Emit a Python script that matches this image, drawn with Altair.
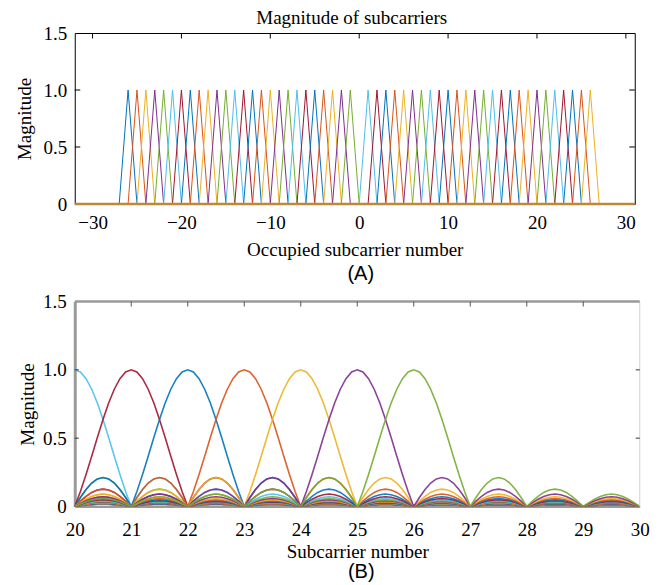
import altair as alt
import pandas as pd

# MATLAB default colour order
palette = ["#0072BD", "#D95319", "#EDB120", "#7E2F8E", "#77AC30", "#4DBEEE", "#A2142F"]

# ---------------- Panel A data ----------------
subcarriers_a = list(range(-26, 0)) + list(range(1, 27))
peak_a = 1.0
x_ticks_a = [-30, -20, -10, 0, 10, 20, 30]
x_domain_a = [-32, 31]
y_ticks = [0, 0.5, 1.0, 1.5]
inner_y_ticks = [0.5, 1.0]

# ---------------- Panel B data ----------------
subcarriers_b = list(range(1, 27))
x_ticks_b = list(range(20, 31))
top_ticks_b = list(range(21, 30))
x_domain_b = [20, 30]
# main lobe magnitude read at offsets 0.0 .. 1.0 (step 0.1)
main_lobe = [1.0, 0.984, 0.935, 0.858, 0.757, 0.637, 0.505, 0.368, 0.234, 0.109, 0.0]
# shape of one side lobe at offsets 0.0 .. 1.0 within the lobe (step 0.1)
side_arch = [0.0, 0.309, 0.588, 0.809, 0.951, 1.0, 0.951, 0.809, 0.588, 0.309, 0.0]
# peak height of the 1st, 2nd, ... side lobe
side_peaks = [0.212, 0.127, 0.091, 0.071, 0.058, 0.049, 0.042, 0.037, 0.034, 0.030,
              0.028, 0.025, 0.024, 0.022, 0.021, 0.019, 0.018, 0.017, 0.016, 0.016,
              0.015, 0.014, 0.014, 0.013, 0.012, 0.012, 0.012, 0.011, 0.011]

# ---------------- tables ----------------
rows_a = []
for k in subcarriers_a:
    for x, y in ((k - 1, 0.0), (k, peak_a), (k + 1, 0.0)):
        rows_a.append({"x": x, "y": y, "sc": f"a{k}"})
df_a = pd.DataFrame(rows_a)
keys_a = [f"a{k}" for k in subcarriers_a]
cols_a = [palette[i % 7] for i in range(len(subcarriers_a))]

rows_b = []
for k in subcarriers_b:
    for t in range(x_domain_b[0] * 10, x_domain_b[1] * 10 + 1):
        d = abs(t - 10 * k)
        n, j = divmod(d, 10)
        if n == 0:
            m = main_lobe[j]
        elif n - 1 < len(side_peaks):
            m = side_peaks[n - 1] * side_arch[j]
        else:
            m = 0.0
        rows_b.append({"x": t / 10, "y": m, "sc": f"b{k}"})
df_b = pd.DataFrame(rows_b)
keys_b = [f"b{k}" for k in subcarriers_b]
cols_b = [palette[i % 7] for i in range(len(subcarriers_b))]

# ---------------- styling ----------------
SERIF = "Liberation Serif"
SANS = "Liberation Sans"
FS = 19
WA = 560
WB = 565
HA = 171
HB = 205
LAB = "datum.value == 0 ? '0' : format(datum.value, '.1f')"


def ax(**kw):
    base = dict(grid=False, ticks=False, tickSize=0, labelFont=SERIF, labelFontSize=FS,
                labelColor="black", titleFont=SERIF, titleFontSize=FS,
                titleFontWeight="normal", titleColor="black", labelFlush=False,
                labelOverlap=False)
    base.update(kw)
    return alt.Axis(**base)


# ---------------- Panel A ----------------
xsa = alt.Scale(domain=x_domain_a, nice=False, zero=False)
ysa = alt.Scale(domain=[0, 1.5], nice=False)

x_axis_a = ax(values=x_ticks_a, title="Occupied subcarrier number", domain=False,
              labelPadding=9, titlePadding=8.5)
y_axis_a = ax(values=y_ticks, labelExpr=LAB, title="Magnitude", domain=False,
              labelPadding=8, titlePadding=9)

lines_a = alt.Chart(df_a).mark_line(strokeWidth=1, clip=True).encode(
    x=alt.X("x:Q", scale=xsa, axis=x_axis_a),
    y=alt.Y("y:Q", scale=ysa, axis=y_axis_a),
    color=alt.Color("sc:N", scale=alt.Scale(domain=keys_a, range=cols_a), legend=None),
    detail="sc:N",
)

base_a = alt.Chart(pd.DataFrame({"y": [0.0]})).mark_rule(color="#c0873c", strokeWidth=2.5).encode(
    y=alt.Y("y:Q", scale=ysa, axis=y_axis_a), x=alt.value(0), x2=alt.value(WA))

tx_a = pd.DataFrame({"x": x_ticks_a})
ty_a = pd.DataFrame({"y": inner_y_ticks})
top_a = alt.Chart(tx_a).mark_rule(color="black", strokeWidth=1).encode(
    x=alt.X("x:Q", scale=xsa, axis=x_axis_a), y=alt.value(0), y2=alt.value(5.5))
left_a = alt.Chart(ty_a).mark_rule(color="black", strokeWidth=1).encode(
    y=alt.Y("y:Q", scale=ysa, axis=y_axis_a), x=alt.value(0), x2=alt.value(5.5))
right_a = alt.Chart(ty_a).mark_rule(color="black", strokeWidth=1).encode(
    y=alt.Y("y:Q", scale=ysa, axis=y_axis_a), x=alt.value(WA - 5.5), x2=alt.value(WA))

title_a = alt.Chart(pd.DataFrame({"t": ["Magnitude of subcarriers"]})).mark_text(
    font=SERIF, fontSize=FS, align="center", baseline="alphabetic", color="black").encode(
    text="t:N", x=alt.value(WA / 2 - 3), y=alt.value(-9.4))

tag_a = alt.Chart(pd.DataFrame({"t": ["(A)"]})).mark_text(
    font=SANS, fontSize=20, align="center", baseline="middle", color="black").encode(
    text="t:N", x=alt.value(WA / 2 + 6), y=alt.value(HA + 70))

chart_a = alt.layer(lines_a, base_a, top_a, left_a, right_a, title_a, tag_a).properties(
    width=WA, height=HA,
    view=alt.ViewBackground(stroke="black", strokeWidth=1),
)

# ---------------- Panel B ----------------
xsb = alt.Scale(domain=x_domain_b, nice=False, zero=False)
ysb = alt.Scale(domain=[0, 1.5], nice=False)
GRAY = "#9a9a9a"

x_axis_b = ax(values=x_ticks_b, title="Subcarrier number", domain=True,
              domainColor=GRAY, domainWidth=2, labelPadding=14, titlePadding=3)
y_axis_b = ax(values=y_ticks, labelExpr=LAB, title="Magnitude", domain=True,
              domainColor=GRAY, domainWidth=3, labelPadding=8.5, titlePadding=5.5)

lines_b = alt.Chart(df_b).mark_line(strokeWidth=1.6, clip=True, opacity=0.9).encode(
    x=alt.X("x:Q", scale=xsb, axis=x_axis_b),
    y=alt.Y("y:Q", scale=ysb, axis=y_axis_b),
    color=alt.Color("sc:N", scale=alt.Scale(domain=keys_b, range=cols_b), legend=None),
    detail="sc:N",
)

frame_top_b = alt.Chart(pd.DataFrame({"y": [1.5]})).mark_rule(color=GRAY, strokeWidth=2.5).encode(
    y=alt.Y("y:Q", scale=ysb, axis=y_axis_b), x=alt.value(0), x2=alt.value(WB))
frame_right_b = alt.Chart(pd.DataFrame({"x": [30]})).mark_rule(color="#d0d0d0", strokeWidth=1).encode(
    x=alt.X("x:Q", scale=xsb, axis=x_axis_b), y=alt.value(0), y2=alt.value(HB))

tx_b = pd.DataFrame({"x": top_ticks_b})
ty_b = pd.DataFrame({"y": inner_y_ticks})
top_b = alt.Chart(tx_b).mark_rule(color="#555555", strokeWidth=1).encode(
    x=alt.X("x:Q", scale=xsb, axis=x_axis_b), y=alt.value(0), y2=alt.value(5))
left_b = alt.Chart(ty_b).mark_rule(color="#333333", strokeWidth=1).encode(
    y=alt.Y("y:Q", scale=ysb, axis=y_axis_b), x=alt.value(0), x2=alt.value(4))
right_b = alt.Chart(ty_b).mark_rule(color="#333333", strokeWidth=1).encode(
    y=alt.Y("y:Q", scale=ysb, axis=y_axis_b), x=alt.value(WB - 4), x2=alt.value(WB))

tag_b = alt.Chart(pd.DataFrame({"t": ["(B)"]})).mark_text(
    font=SANS, fontSize=20, align="center", baseline="middle", color="black").encode(
    text="t:N", x=alt.value(WB / 2 + 4), y=alt.value(HB + 65.5))

chart_b = alt.layer(lines_b, frame_right_b, frame_top_b, top_b, left_b, right_b, tag_b).properties(
    width=WB, height=HB,
    view=alt.ViewBackground(stroke="transparent"),
)

chart = alt.concat(chart_a, chart_b, columns=1, spacing=6.5, align="none").properties(
    padding={"left": 5.75, "top": 0, "right": 2, "bottom": 0},
    background="white",
)

chart.save("out.html", embed_options={"renderer": "svg", "actions": False})
